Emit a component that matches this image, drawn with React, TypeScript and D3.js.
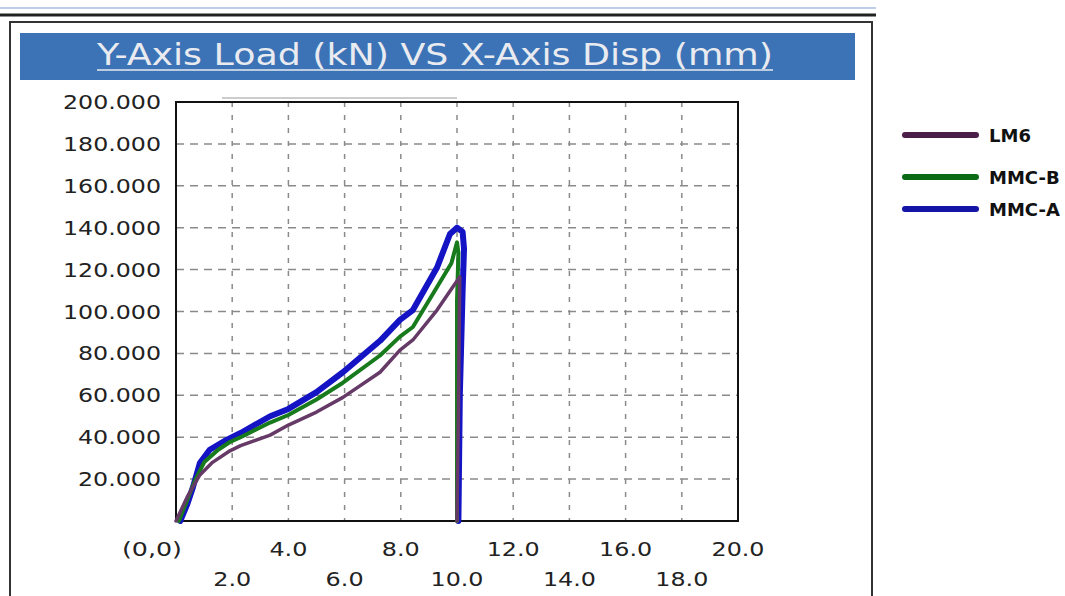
import React from 'react';
import * as d3 from 'd3';

// displacement (mm) / load (kN)
const lm6Disp = [0, 0.4, 0.85, 1.3, 1.92, 2.3, 3.35, 4.0, 5.0, 5.94, 7.26, 7.97, 8.43, 9.29, 9.85, 10.1, 10.08, 10.05, 10.0];
const lm6Load = [0, 11.5, 22, 28, 33.5, 36, 41, 45.8, 52, 59, 71, 81.6, 86.4, 100.7, 111.7, 116.5, 95, 50, 0];

const mmcBDisp = [0.1, 0.4, 0.7, 1.0, 1.5, 1.92, 2.3, 3.35, 4.0, 5.0, 5.94, 7.26, 7.97, 8.43, 9.29, 9.8, 10.0, 10.05, 10.0, 10.0];
const mmcBLoad = [0, 10, 20, 28, 34, 37.7, 40, 47, 50.6, 58, 66, 79, 88, 92.6, 111.7, 123, 133, 128, 105, 0];

const mmcADisp = [0.15, 0.4, 0.6, 0.85, 1.2, 1.8, 2.3, 3.35, 4.0, 5.0, 5.94, 7.26, 7.97, 8.43, 9.29, 9.75, 10.0, 10.2, 10.25, 10.2, 10.1, 10.05];
const mmcALoad = [0, 8, 16, 27.7, 34, 38.7, 42, 50, 53.5, 61.5, 71, 86, 96, 100.7, 121, 137, 140, 138, 130, 110, 60, 0];

const seriesNames = ['LM6', 'MMC-B', 'MMC-A'];
const yTicks = [20, 40, 60, 80, 100, 120, 140, 160, 180, 200];
const xTicksTop = [0, 4, 8, 12, 16, 20];
const xTicksBottom = [2, 6, 10, 14, 18];
const gridX = [2, 4, 6, 8, 10, 12, 14, 16, 18];

const plotColors: Record<string, string> = { 'LM6': '#663a66', 'MMC-B': '#177a1c', 'MMC-A': '#1414c4' };
const legendColors: Record<string, string> = { 'LM6': '#4b1d4b', 'MMC-B': '#0b6a16', 'MMC-A': '#1414a6' };
const plotWidths: Record<string, number> = { 'LM6': 3.5, 'MMC-B': 4, 'MMC-A': 6 };

const App = () => {
    const width = 1065;
    const height = 596;

    const x = d3.scaleLinear().domain([0, 20]).range([176, 738]);
    const y = d3.scaleLinear().domain([0, 200]).range([521, 102]);

    const line = d3.line<[number, number]>()
        .x(d => x(d[0]))
        .y(d => y(d[1]));

    const series = [
        { name: 'MMC-A', pts: d3.zip(mmcADisp, mmcALoad) as [number, number][] },
        { name: 'MMC-B', pts: d3.zip(mmcBDisp, mmcBLoad) as [number, number][] },
        { name: 'LM6', pts: d3.zip(lm6Disp, lm6Load) as [number, number][] },
    ];

    // tick label width: wide digits in the original
    const labelLen = (s: string) => s.replace('.', '').length * 15 + (s.includes('.') ? 8 : 0);

    const legendY = [135, 177, 209];

    return (
        <svg width={width} height={height} style={{ position: 'absolute', left: 0, top: 0, background: '#fff' }}
            fontFamily="DejaVu Sans, Verdana, sans-serif">
            {/* window chrome */}
            <line x1={0} x2={876} y1={8} y2={8} stroke="#a9bde3" strokeWidth={1.5} />
            <line x1={0} x2={876} y1={15} y2={15} stroke="#222" strokeWidth={3} />
            <rect x={10} y={22} width={862} height={590} fill="none" stroke="#333" strokeWidth={2} />

            {/* title bar */}
            <rect x={20} y={33} width={835} height={47} fill="#3b73b6" />
            <text x={435} y={65} textAnchor="middle" fill="#e9ebf0" fontSize={30}
                fontFamily="DejaVu Sans Condensed, DejaVu Sans, sans-serif"
                textLength={676} lengthAdjust="spacingAndGlyphs">Y-Axis Load (kN) VS X-Axis Disp (mm)</text>
            <line x1={97} x2={773} y1={70} y2={70} stroke="#e9ebf0" strokeWidth={1.5} />

            {/* grid */}
            {yTicks.filter(t => t < 200).map(t => (
                <line key={'gy' + t} x1={x(0)} x2={x(20)} y1={y(t)} y2={y(t)}
                    stroke="#8a8a8a" strokeWidth={1.5} strokeDasharray="8,6" />
            ))}
            {gridX.map(t => (
                <line key={'gx' + t} x1={x(t)} x2={x(t)} y1={y(200)} y2={y(0)}
                    stroke="#8a8a8a" strokeWidth={1.5} strokeDasharray="5,8" />
            ))}
            <line x1={222} x2={457} y1={98} y2={98} stroke="#999" strokeWidth={1} />
            <rect x={x(0)} y={y(200)} width={x(20) - x(0)} height={y(0) - y(200)}
                fill="none" stroke="#111" strokeWidth={2} />

            {/* curves */}
            {series.map(s => (
                <path key={s.name} d={line(s.pts) || ''} fill="none" stroke={plotColors[s.name]}
                    strokeWidth={plotWidths[s.name]} strokeLinejoin="round" strokeLinecap="round" />
            ))}

            {/* y tick labels */}
            {yTicks.map(t => {
                const s = t.toFixed(3);
                return (
                    <text key={'yl' + t} x={161} y={y(t) + 7} textAnchor="end" fontSize={19} fill="#222"
                        textLength={labelLen(s)} lengthAdjust="spacingAndGlyphs">{s}</text>
                );
            })}

            {/* x tick labels, two staggered rows */}
            {xTicksTop.map(t => {
                const s = t === 0 ? '(0,0)' : t.toFixed(1);
                const cx = t === 0 ? 152 : x(t);
                return (
                    <text key={'xt' + t} x={cx} y={556} textAnchor="middle" fontSize={20} fill="#222"
                        textLength={t === 0 ? 60 : labelLen(s)} lengthAdjust="spacingAndGlyphs">{s}</text>
                );
            })}
            {xTicksBottom.map(t => {
                const s = t.toFixed(1);
                return (
                    <text key={'xb' + t} x={x(t)} y={586} textAnchor="middle" fontSize={20} fill="#222"
                        textLength={labelLen(s)} lengthAdjust="spacingAndGlyphs">{s}</text>
                );
            })}

            {/* legend */}
            {seriesNames.map((n, i) => (
                <g key={'lg' + n}>
                    <line x1={905} x2={976} y1={legendY[i]} y2={legendY[i]} stroke={legendColors[n]}
                        strokeWidth={6} strokeLinecap="round" />
                    <text x={989} y={legendY[i] + 7} fontSize={18} fontWeight="bold" fill="#111">{n}</text>
                </g>
            ))}
        </svg>
    );
};

export default App;
